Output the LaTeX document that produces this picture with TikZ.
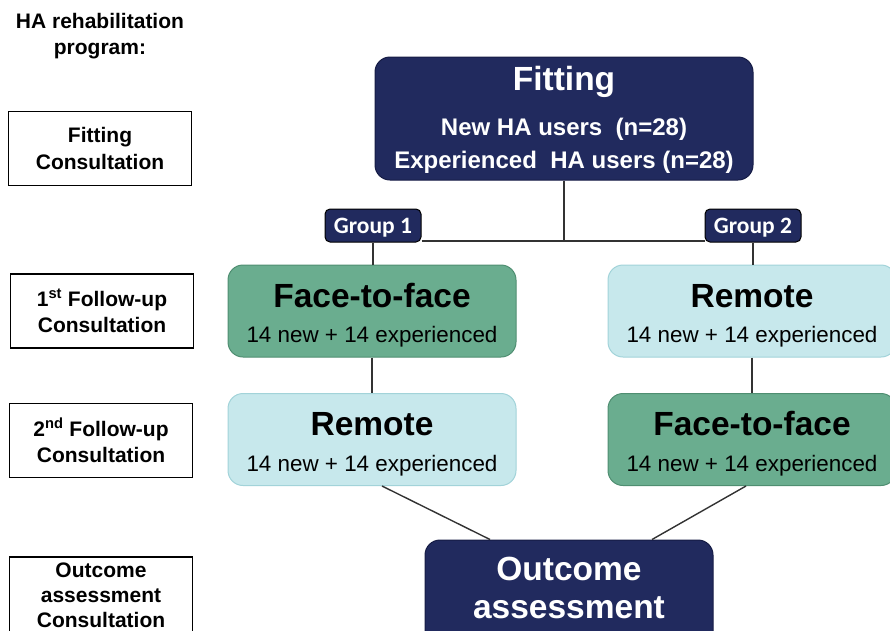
\documentclass[tikz,border=0pt]{standalone}
\usepackage{fontspec}
\setmainfont{Liberation Sans}
\newfontfamily\grpfont{Carlito}
\usetikzlibrary{calc}
\definecolor{navy}{HTML}{212A5E}
\definecolor{navyedge}{HTML}{161C45}
\definecolor{ffill}{HTML}{6AAD8F}
\definecolor{fedge}{HTML}{4F8E71}
\definecolor{rfill}{HTML}{C7E8EC}
\definecolor{redge}{HTML}{A2D3D9}
\definecolor{linec}{HTML}{333333}
\tikzset{
  labelbox/.style={draw=black, line width=1.6pt, fill=white, minimum width=183pt, minimum height=74pt, align=center, inner sep=0pt, font=\fontsize{21}{26.5}\selectfont\bfseries},
  navybox/.style={draw=navyedge, line width=1pt, fill=navy, rounded corners=15pt, inner sep=0pt},
  facebox/.style={draw=fedge, line width=1pt, fill=ffill, rounded corners=15pt, minimum width=288pt, minimum height=92pt, inner sep=0pt},
  remotebox/.style={draw=redge, line width=1pt, fill=rfill, rounded corners=15pt, minimum width=288pt, minimum height=92pt, inner sep=0pt},
  grpbox/.style={draw=black, line width=1pt, fill=navy, rounded corners=5pt, minimum width=96pt, minimum height=33pt, inner sep=0pt, text height=17pt, text depth=2pt, text=white, font=\grpfont\fontsize{23.5}{26}\selectfont\bfseries},
  ttl/.style={anchor=base, inner sep=0pt, font=\fontsize{33.5}{36}\selectfont\bfseries},
  sub/.style={anchor=base, inner sep=0pt, font=\fontsize{22.4}{24}\selectfont},
  fsub/.style={anchor=base, inner sep=0pt, text=white, font=\fontsize{24}{26}\selectfont\bfseries},
  conn/.style={draw=linec, line width=1.4pt},
}
\begin{document}
\begin{tikzpicture}[x=1pt,y=-1pt]
\useasboundingbox (0,0) rectangle (890,630);
\clip (0,0) rectangle (890,630);
% left column
\node[anchor=center, align=center, inner sep=0pt, font=\fontsize{21}{26}\selectfont\bfseries] (title) at (100,36) {HA rehabilitation\\program:};
\node[labelbox] (L1) at (100,148.5) {Fitting\\Consultation};
\node[labelbox] (L2) at (102,311) {1\textsuperscript{st} Follow-up\\Consultation};
\node[labelbox] (L3) at (101,440.5) {2\textsuperscript{nd} Follow-up\\Consultation};
\node[labelbox, minimum height=90pt] (L4) at (101,602) {};
\node[anchor=center, align=center, inner sep=0pt, font=\fontsize{21}{25}\selectfont\bfseries] (L4t) at (101,595) {Outcome\\assessment\\Consultation};
% fitting
\node[navybox, minimum width=378pt, minimum height=123pt] (fit) at (564,118.5) {};
\node[ttl, text=white] (fitT) at (564,90) {Fitting};
\node[fsub] (fitA) at (564,135) {New HA users\ \ (n=28)};
\node[fsub] (fitB) at (564,168) {Experienced\ \ HA users (n=28)};
% groups
\node[grpbox] (g1) at (373,225.5) {Group 1};
\node[grpbox] (g2) at (753,225.5) {Group 2};
\coordinate (j) at (564,241);
% first follow-up
\node[facebox] (f1) at (372,311) {};
\node[ttl] (f1T) at (372,307) {Face-to-face};
\node[sub] (f1S) at (372,342) {14 new + 14 experienced};
\node[remotebox] (r2) at (752,311) {};
\node[ttl] (r2T) at (752,307) {Remote};
\node[sub] (r2S) at (752,342) {14 new + 14 experienced};
% second follow-up
\node[remotebox] (r1) at (372,439.5) {};
\node[ttl] (r1T) at (372,435) {Remote};
\node[sub] (r1S) at (372,471) {14 new + 14 experienced};
\node[facebox] (f2) at (752,439.5) {};
\node[ttl] (f2T) at (752,435) {Face-to-face};
\node[sub] (f2S) at (752,471) {14 new + 14 experienced};
% outcome
\node[navybox, minimum width=288pt, minimum height=120pt] (out) at (569,600) {};
\node[ttl, text=white] (outA) at (569,580) {Outcome};
\node[ttl, text=white] (outB) at (569,618) {assessment};
% connectors
\draw[conn] (fit.south) -- (j);
\draw[conn] (g1.east |- j) -- (g2.west |- j);
\draw[conn] (g1.south) -- (g1.south |- f1.north);
\draw[conn] (g2.south) -- (g2.south |- r2.north);
\draw[conn] (f1.south) -- (r1.north);
\draw[conn] (r2.south) -- (f2.north);
\draw[conn] ($(r1.south)+(10,0)$) -- ($(out.north)+(-79,0)$);
\draw[conn] ($(f2.south)+(-6,0)$) -- ($(out.north)+(83,0)$);
\end{tikzpicture}
\end{document}
